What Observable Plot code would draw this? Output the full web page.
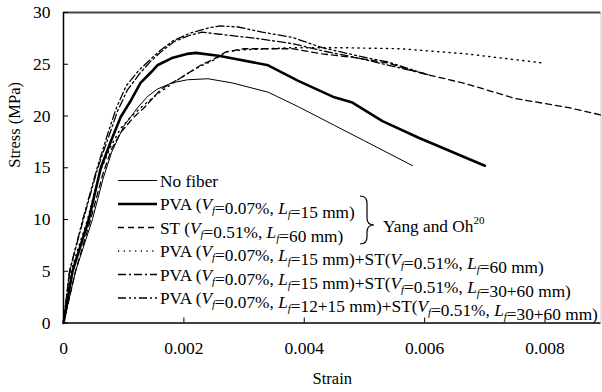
<!DOCTYPE html>
<html><head><meta charset="utf-8">
<script src="https://cdn.jsdelivr.net/npm/d3@7"></script>
<script src="https://cdn.jsdelivr.net/npm/@observablehq/plot@0.6"></script>
<style>body{margin:0;background:#fff;} svg{display:block}</style>
</head><body><div id="chart"></div>
<script>
const xTicks = [0, 0.002, 0.004, 0.006, 0.008];
const xTickLabels = ["0", "0.002", "0.004", "0.006", "0.008"];
const yTicks = [0, 5, 10, 15, 20, 25, 30];
const xMax = 0.00893;
const yMax = 30;

const noFiberStrain = [0, 0.0002, 0.00048, 0.00066, 0.0008, 0.001, 0.00123, 0.0014, 0.00156, 0.0018, 0.00206, 0.0024, 0.0028, 0.0034, 0.0039, 0.0045, 0.005, 0.0058];
const noFiberStress = [0, 5, 10, 14, 16.5, 19, 20.8, 21.9, 22.6, 23.2, 23.5, 23.6, 23.2, 22.3, 20.9, 19.1, 17.6, 15.2];

const pvaStrain = [0, 0.00015, 0.00042, 0.00062, 0.00079, 0.00095, 0.00112, 0.00128, 0.00145, 0.00156, 0.0018, 0.00205, 0.0022, 0.0026, 0.0034, 0.0039, 0.0045, 0.0048, 0.0053, 0.0059, 0.007];
const pvaStress = [0, 5, 10, 15, 17.6, 19.9, 21.5, 23.2, 24.2, 24.9, 25.6, 26.0, 26.1, 25.8, 24.9, 23.4, 21.8, 21.3, 19.5, 17.9, 15.2];

const stStrain = [0, 0.0002, 0.00045, 0.00066, 0.0008, 0.00095, 0.00117, 0.00134, 0.00162, 0.00195, 0.00228, 0.0025, 0.0027, 0.003, 0.0038, 0.0043, 0.0049, 0.0054, 0.0059, 0.0067, 0.0075, 0.0084, 0.00893];
const stStress = [0, 5, 10, 14.5, 16.8, 18.4, 19.9, 20.8, 22.6, 23.7, 24.9, 25.5, 26.2, 26.5, 26.5, 26.0, 25.6, 25.1, 24.2, 23.1, 21.7, 20.8, 20.1];

const pvaSt60Strain = [0, 0.00012, 0.0004, 0.0006, 0.00078, 0.00095, 0.0011, 0.0013, 0.0016, 0.0019, 0.0022, 0.0025, 0.0027, 0.003, 0.0038, 0.0046, 0.0056, 0.0067, 0.008];
const pvaSt60Stress = [0, 5, 10, 14.5, 17, 18.8, 19.8, 20.9, 22.3, 23.5, 24.6, 25.4, 26.2, 26.4, 26.6, 26.6, 26.5, 26.0, 25.1];

const pvaSt3060Strain = [0, 0.0001, 0.00033, 0.00057, 0.00075, 0.0009, 0.00106, 0.00128, 0.00145, 0.00162, 0.00184, 0.0021, 0.0023, 0.0026, 0.0032, 0.0038, 0.0043, 0.0049, 0.0054, 0.006];
const pvaSt3060Stress = [0, 5, 10, 15, 18, 20.5, 22.5, 24.2, 25.3, 26.2, 27.2, 27.8, 28.1, 27.9, 27.5, 27.0, 26.3, 25.6, 24.9, 24.1];

const pva1215St3060Strain = [0, 0.0001, 0.00032, 0.00056, 0.00073, 0.00088, 0.00104, 0.00125, 0.00143, 0.0016, 0.00183, 0.0021, 0.0024, 0.0026, 0.0029, 0.0033, 0.0038, 0.0043, 0.0049, 0.0054, 0.0061];
const pva1215St3060Stress = [0, 5, 10, 15, 18.2, 20.8, 22.9, 24.4, 25.4, 26.3, 27.3, 28.0, 28.5, 28.7, 28.6, 28.1, 27.6, 26.6, 25.8, 25.2, 23.9];

const legendLabels = [
  "No fiber",
  "PVA (Vf=0.07%, Lf=15 mm)",
  "ST (Vf=0.51%, Lf=60 mm)",
  "PVA (Vf=0.07%, Lf=15 mm)+ST(Vf=0.51%, Lf=60 mm)",
  "PVA (Vf=0.07%, Lf=15 mm)+ST(Vf=0.51%, Lf=30+60 mm)",
  "PVA (Vf=0.07%, Lf=12+15 mm)+ST(Vf=0.51%, Lf=30+60 mm)"
];
const seriesWidths = [1, 2.6, 1.3, 1.4, 1.3, 1.3];
const seriesDashes = [null, null, "6,4", "1.2,4.5", "8,3,2,3", "8,3,2,3,2,3"];

const zip = (xs, ys) => xs.map((x, i) => ({strain: x, stress: ys[i]}));
const series = [
  zip(noFiberStrain, noFiberStress),
  zip(pvaStrain, pvaStress),
  zip(stStrain, stStress),
  zip(pvaSt60Strain, pvaSt60Stress),
  zip(pvaSt3060Strain, pvaSt3060Stress),
  zip(pva1215St3060Strain, pva1215St3060Stress)
];

const font = "Liberation Serif, Tinos, Times New Roman, Nimbus Roman, DejaVu Serif, serif";

const chart = Plot.plot({
  width: 602, height: 392,
  marginLeft: 63, marginRight: 1.5, marginTop: 12, marginBottom: 69.5,
  style: {fontFamily: font, background: "#fff", color: "#000", overflow: "visible"},
  x: {domain: [0, xMax]},
  y: {domain: [0, yMax]},
  marks: [
    Plot.ruleY([yMax], {stroke: "#444", strokeWidth: 2}),
    Plot.ruleX([xMax], {stroke: "#c8c8c8", strokeWidth: 1}),
    Plot.axisY({ticks: yTicks, tickSize: 0, tickPadding: 13, fontSize: 17.5, label: null}),
    Plot.axisY({ticks: yTicks, tickSize: 5, dx: 5, tickFormat: () => "", label: null}),
    Plot.axisX({ticks: xTicks, tickFormat: d => xTickLabels[xTicks.indexOf(d)], tickSize: 0, tickPadding: 19, fontSize: 17.5, label: null}),
    Plot.axisX({ticks: xTicks, tickSize: 5, dy: -5, tickFormat: () => "", label: null}),
    ...series.map((s, i) => Plot.line(s, {x: "strain", y: "stress", stroke: "#000", strokeWidth: seriesWidths[i], strokeDasharray: seriesDashes[i] ?? undefined})),
    Plot.ruleX([0], {strokeWidth: 1.5}),
    Plot.ruleY([0], {strokeWidth: 1.5}),
    Plot.text(["Strain"], {text: d => d, frameAnchor: "bottom", dy: 61, fontSize: 16.5}),
    Plot.text(["Stress (MPa)"], {text: d => d, frameAnchor: "left", dx: -49, rotate: -90, fontSize: 16.5})
  ]
});
document.getElementById("chart").appendChild(chart);
chart.setAttribute("font-family", font);
chart.style.fontFamily = font;

// Legend
const svg = d3.select(chart);
const lg = svg.append("g").attr("font-family", font).style("font-family", font)
  .attr("font-size", 17.3).attr("fill", "#000").attr("text-anchor", "start");
const rowY0 = 180.5, rowStep = 23.5, lineX1 = 118, lineX2 = 157, textX = 160;
legendLabels.forEach((label, i) => {
  const y = rowY0 + i * rowStep;
  const ln = lg.append("line").attr("x1", lineX1).attr("x2", lineX2).attr("y1", y).attr("y2", y)
    .attr("stroke", "#000").attr("stroke-width", seriesWidths[i]);
  if (seriesDashes[i]) ln.attr("stroke-dasharray", seriesDashes[i]);
  const t = lg.append("text").attr("x", textX).attr("y", y + 6);
  const parts = label.split(/(Vf|Lf)/);
  parts.forEach(p => {
    if (p === "Vf" || p === "Lf") {
      t.append("tspan").attr("font-style", "italic").text(p[0]);
      t.append("tspan").attr("font-style", "italic").attr("font-size", 11).attr("dy", 4).text("f");
      t.append("tspan").attr("dy", -4).text("");
    } else if (p.length) {
      t.append("tspan").text(p);
    }
  });
});
// brace
lg.append("path")
  .attr("d", "M360,196 Q367,196 367,203 L367,218 Q367,225 374,225 Q367,225 367,232 L367,237 Q367,244 360,244")
  .attr("fill", "none").attr("stroke", "#000").attr("stroke-width", 1.2);
const yt = lg.append("text").attr("x", 383).attr("y", 232);
yt.append("tspan").text("Yang and Oh");
yt.append("tspan").attr("font-size", 11).attr("dy", -8).text("20");
</script>
</body></html>
